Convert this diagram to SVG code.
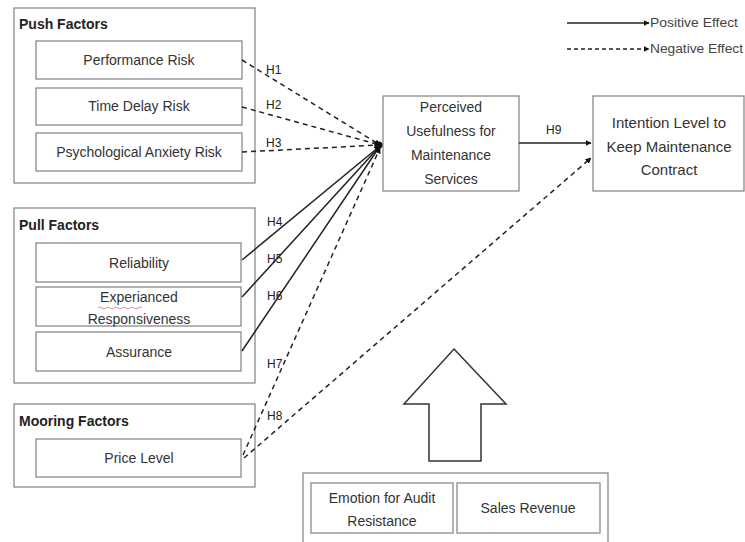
<svg xmlns="http://www.w3.org/2000/svg" width="745" height="542" viewBox="0 0 745 542">
<style>
.box{fill:#fff;stroke:#8a8a8a;stroke-width:1.3}
.t{font-family:"Liberation Sans",Arial,sans-serif;font-size:14px;fill:#333;text-anchor:middle}
.h{font-family:"Liberation Sans",Arial,sans-serif;font-size:14px;font-weight:bold;fill:#222}
.lb{font-family:"Liberation Sans",Arial,sans-serif;font-size:12px;fill:#222}
.lg{font-family:"Liberation Sans",Arial,sans-serif;font-size:12px;fill:#444}
.s{stroke:#222;stroke-width:1.5;fill:none}
.d{stroke:#222;stroke-width:1.5;fill:none;stroke-dasharray:5 4}
</style>
<defs>
<marker id="ah" viewBox="0 0 10 10" refX="9" refY="5" markerWidth="6" markerHeight="6" markerUnits="userSpaceOnUse" orient="auto">
<path d="M0,0 L10,5 L0,10 z" fill="#111"/>
</marker>
</defs>
<rect width="745" height="542" fill="#fff"/>

<g id="push">
<rect class="box" x="14" y="8" width="241" height="175"/>
<text class="h" x="19" y="29">Push Factors</text>
</g>
<g id="performance-risk"><rect class="box" x="36" y="41" width="206" height="38"/><text class="t" x="139" y="65">Performance Risk</text></g>
<g id="time-delay-risk"><rect class="box" x="36" y="88" width="206" height="37"/><text class="t" x="139" y="111">Time Delay Risk</text></g>
<g id="psych-risk"><rect class="box" x="36" y="133" width="206" height="38"/><text class="t" x="139" y="157">Psychological Anxiety Risk</text></g>

<g id="pull">
<rect class="box" x="14" y="208" width="241" height="175"/>
<text class="h" x="19" y="230">Pull Factors</text>
</g>
<g id="reliability"><rect class="box" x="36" y="243" width="205" height="39"/><text class="t" x="139" y="268">Reliability</text></g>
<g id="responsiveness"><rect class="box" x="36" y="287" width="205" height="39"/><text class="t" x="139" y="302">Experianced</text><path d="M98,308 q2,-2 4,0 t4,0 t4,0 t4,0 t4,0 t4,0 t4,0 t4,0 t4,0 t4,0 t4,0" stroke="#e07070" stroke-width="0.8" fill="none"/><text class="t" x="139" y="324">Responsiveness</text></g>
<g id="assurance"><rect class="box" x="36" y="332" width="205" height="39"/><text class="t" x="139" y="357">Assurance</text></g>

<g id="mooring">
<rect class="box" x="14" y="404" width="241" height="83"/>
<text class="h" x="19" y="426">Mooring Factors</text>
</g>
<g id="price-level"><rect class="box" x="36" y="439" width="205" height="38"/><text class="t" x="139" y="463">Price Level</text></g>

<g id="perceived"><rect class="box" x="383" y="96" width="136" height="95"/>
<text class="t" x="451" y="112">Perceived</text>
<text class="t" x="451" y="136">Usefulness for</text>
<text class="t" x="451" y="160">Maintenance</text>
<text class="t" x="451" y="184">Services</text></g>

<g id="intention"><rect class="box" x="593" y="96" width="151" height="95"/>
<text class="t" x="669" y="128" style="font-size:15px">Intention Level to</text>
<text class="t" x="669" y="152" style="font-size:15px">Keep Maintenance</text>
<text class="t" x="669" y="175" style="font-size:15px">Contract</text></g>

<g id="moderators">
<path d="M454,349 L506,404 L481,404 L481,461 L429,461 L429,404 L404,404 Z" fill="#fff" stroke="#333" stroke-width="1.5"/>
<rect class="box" x="303" y="473" width="305" height="75"/>
</g>
<g id="emotion"><rect class="box" x="311" y="483" width="142" height="50"/><text class="t" x="382" y="503">Emotion for Audit</text><text class="t" x="382" y="526">Resistance</text></g>
<g id="sales"><rect class="box" x="457" y="483" width="143" height="50"/><text class="t" x="528" y="513">Sales Revenue</text></g>

<g id="legend">
<line class="s" x1="567" y1="23" x2="649" y2="23" marker-end="url(#ah)"/>
<text class="lg" x="650" y="27" textLength="88" lengthAdjust="spacingAndGlyphs">Positive Effect</text>
<line class="d" x1="567" y1="49" x2="649" y2="49" marker-end="url(#ah)" style="stroke-dasharray:4 3"/>
<text class="lg" x="650" y="53" textLength="93" lengthAdjust="spacingAndGlyphs">Negative Effect</text>
</g>

<g id="connectors">
<line class="d" x1="242" y1="60" x2="380" y2="145" marker-end="url(#ah)"/>
<line class="d" x1="242" y1="107" x2="380" y2="145" marker-end="url(#ah)"/>
<line class="d" x1="242" y1="152" x2="380" y2="145" marker-end="url(#ah)"/>
<line class="s" x1="242" y1="260" x2="380" y2="146" marker-end="url(#ah)"/>
<line class="s" x1="242" y1="297" x2="380" y2="146" marker-end="url(#ah)"/>
<line class="s" x1="242" y1="351" x2="380" y2="146" marker-end="url(#ah)"/>
<line class="d" x1="243" y1="455" x2="380" y2="148" marker-end="url(#ah)"/>
<line class="d" x1="244" y1="458" x2="591" y2="158" marker-end="url(#ah)"/>
<line class="s" x1="519" y1="143" x2="591" y2="143" marker-end="url(#ah)"/>
<circle cx="379" cy="145" r="3.5" fill="#111"/>
<text class="lb" x="266" y="74">H1</text>
<text class="lb" x="266" y="109">H2</text>
<text class="lb" x="266" y="147">H3</text>
<text class="lb" x="267" y="226">H4</text>
<text class="lb" x="267" y="263">H5</text>
<text class="lb" x="267" y="300">H6</text>
<text class="lb" x="267" y="368">H7</text>
<text class="lb" x="267" y="420">H8</text>
<text class="lb" x="546" y="134">H9</text>
</g>
</svg>
